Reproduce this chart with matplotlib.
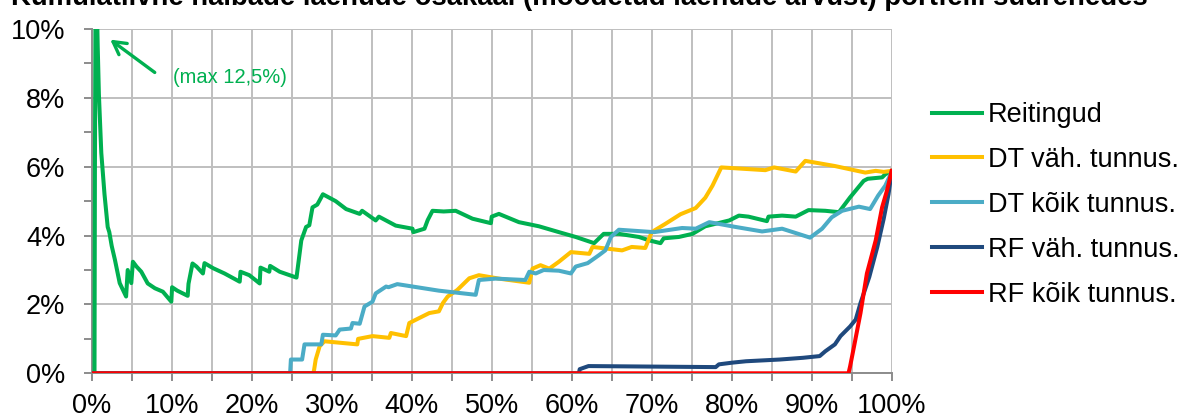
import matplotlib
matplotlib.use("Agg")
import matplotlib.pyplot as plt
from matplotlib.ticker import MultipleLocator, FuncFormatter

plt.rcParams['font.family'] = ['Liberation Sans', 'DejaVu Sans']

title = "Kumulatiivne halbade laenude osakaal (mõõdetud laenude arvust) portfelli suurenedes"
labels = ["Reitingud", "DT väh. tunnus.", "DT kõik tunnus.", "RF väh. tunnus.", "RF kõik tunnus."]
colors = ["#00b050", "#ffc000", "#4bacc6", "#1f497d", "#ff0000"]

reit_x = [0, 0.35, 0.4, 0.5, 0.75, 0.9, 1.2, 1.6, 2.0, 2.2, 2.5, 2.9, 3.5, 4.3, 4.5, 4.95, 5.15, 5.6, 6.2, 7.0,
          7.9, 8.9, 9.95, 10.05, 10.7, 12.0, 12.1, 12.6, 13.1, 13.9, 14.1, 15.2, 16.6, 18.5, 18.6, 19.7, 21.0,
          21.1, 22.2, 22.3, 23.5, 25.6, 26.0, 26.2, 26.8, 27.2, 27.6, 28.2, 28.9, 30.5, 31.8, 33.5, 33.8, 35.5,
          35.9, 38.0, 40.1, 40.2, 41.6, 42.0, 42.6, 44.0, 45.5, 47.6, 49.9, 50.0, 50.9, 53.4, 55.9, 58.4, 60.5,
          62.8, 64.0, 65.9, 68.4, 69.7, 71.1, 71.5, 73.4, 75.1, 76.7, 79.7, 80.9, 82.1, 84.4, 84.6, 86.3, 88.0,
          89.6, 91.7, 93.4, 94.8, 96.5, 97.0, 98.8, 99.2, 100]
reit_y = [0, 0, 5.8, 12.5, 9.5, 8.1, 6.4, 5.2, 4.25, 4.1, 3.7, 3.3, 2.62, 2.23, 3.0, 2.62, 3.24, 3.1, 2.95, 2.61,
          2.47, 2.37, 2.08, 2.5, 2.4, 2.25, 2.6, 3.19, 3.1, 2.9, 3.2, 3.05, 2.9, 2.66, 2.95, 2.85, 2.61,
          3.07, 2.95, 3.12, 2.95, 2.78, 3.5, 3.86, 4.25, 4.3, 4.82, 4.9, 5.2, 5.0, 4.77, 4.63, 4.72, 4.44,
          4.55, 4.29, 4.2, 4.1, 4.2, 4.45, 4.72, 4.7, 4.72, 4.49, 4.36, 4.55, 4.63, 4.39, 4.27, 4.1, 3.96,
          3.78, 4.05, 4.05, 3.96, 3.86, 3.78, 3.92, 3.96, 4.05, 4.27, 4.44, 4.58, 4.55, 4.42, 4.55, 4.58, 4.55,
          4.74, 4.72, 4.68, 5.11, 5.59, 5.65, 5.69, 5.78, 5.88]

dtv_x = [0, 27.7, 27.8, 28.0, 28.5, 29.1, 33.2, 33.3, 35.1, 37.2, 37.4, 39.3, 39.7, 40.9, 42.2, 43.4, 43.9, 44.5,
         45.7, 47.2, 48.4, 50.9, 54.7, 55.1, 56.1, 57.2, 58.4, 59.9, 62.2, 62.6, 66.3, 67.5, 69.2, 70.0, 71.7,
         73.6, 75.5, 76.7, 77.6, 78.7, 84.2, 85.3, 88.0, 89.2, 92.9, 96.7, 98.0, 99.0, 100]
dtv_y = [0, 0, 0.1, 0.4, 0.79, 0.93, 0.84, 1.0, 1.08, 1.03, 1.17, 1.08, 1.46, 1.6, 1.75, 1.8, 2.04, 2.23,
         2.42, 2.76, 2.85, 2.75, 2.63, 3.04, 3.14, 3.04, 3.24, 3.52, 3.47, 3.67, 3.57, 3.67, 3.64, 4.1, 4.34,
         4.62, 4.8, 5.1, 5.45, 5.98, 5.9, 5.98, 5.86, 6.17, 6.02, 5.83, 5.88, 5.85, 5.88]

dtk_x = [0, 24.8, 24.9, 26.3, 26.6, 28.7, 28.9, 30.5, 31.0, 32.4, 32.6, 33.5, 34.1, 35.1, 35.5, 36.8, 37.1, 38.2,
         43.4, 48.0, 48.4, 50.5, 54.2, 54.7, 55.5, 56.5, 58.4, 59.9, 60.5, 62.0, 63.4, 64.2, 64.9, 65.9, 70.3,
         73.8, 75.5, 77.2, 80.5, 83.8, 86.3, 89.8, 91.3, 92.5, 93.8, 95.9, 97.3, 98.3, 99.2, 100]
dtk_y = [0, 0, 0.4, 0.4, 0.84, 0.84, 1.12, 1.1, 1.27, 1.3, 1.46, 1.44, 1.94, 2.08, 2.32, 2.52, 2.5, 2.59,
         2.4, 2.28, 2.71, 2.75, 2.71, 2.95, 2.9, 3.0, 2.98, 2.9, 3.1, 3.2, 3.43, 3.57, 3.96, 4.17, 4.1,
         4.22, 4.2, 4.39, 4.25, 4.12, 4.2, 3.94, 4.2, 4.53, 4.72, 4.84, 4.77, 5.16, 5.45, 5.85]

rfv_x = [0, 60.9, 61.0, 62.1, 78.0, 78.4, 80.1, 81.8, 86.0, 88.9, 91.0, 91.7, 92.9, 93.6, 94.8, 95.5, 96.1, 97.2,
         98.2, 99.0, 99.6, 100]
rfv_y = [0, 0, 0.12, 0.21, 0.18, 0.26, 0.31, 0.35, 0.4, 0.45, 0.5, 0.64, 0.84, 1.08, 1.36, 1.56, 2.04, 2.8,
         3.67, 4.49, 5.2, 5.85]

rfk_x = [0, 94.6, 94.8, 95.3, 96.1, 96.9, 98.0, 98.8, 99.4, 100]
rfk_y = [0, 0, 0.2, 0.79, 1.75, 2.9, 3.86, 4.82, 5.3, 5.88]

annot_text = "(max 12,5%)"
annot_tip = (2.04, 9.74)
annot_tail = (8.16, 8.69)
annot_label = (10.2, 8.6)

W, H = 1179, 417
fig = plt.figure(figsize=(W / 100, H / 100), dpi=100)
ax = fig.add_axes([91.7 / W, 1 - 373.3 / H, 800 / W, (373.3 - 29) / H])

series = [(reit_x, reit_y), (dtv_x, dtv_y), (dtk_x, dtk_y), (rfv_x, rfv_y), (rfk_x, rfk_y)]
for (xs, ys), lab, col in zip(series, labels, colors):
    ax.plot(xs, ys, color=col, lw=2.9, label=lab, solid_joinstyle='round', zorder=3)

ax.set_xlim(0, 100)
ax.set_ylim(0, 10)
ax.xaxis.set_major_locator(MultipleLocator(10))
ax.xaxis.set_minor_locator(MultipleLocator(5))
ax.yaxis.set_major_locator(MultipleLocator(2))
ax.yaxis.set_minor_locator(MultipleLocator(1))
fmt = FuncFormatter(lambda v, p: f"{v:.0f}%")
ax.xaxis.set_major_formatter(fmt)
ax.yaxis.set_major_formatter(fmt)
ax.grid(True, which='major', axis='y', color='#bfbfbf', lw=1.4)
ax.grid(True, which='both', axis='x', color='#bfbfbf', lw=1.4)
ax.set_axisbelow(True)
for s in ['top', 'right']:
    ax.spines[s].set_visible(False)
for s in ['left', 'bottom']:
    ax.spines[s].set_color('#8c8c8c')
    ax.spines[s].set_linewidth(1.4)
ax.tick_params(which='both', direction='out', length=6, width=1.4, color='#8c8c8c', labelsize=19.5,
               labelcolor='black')
ax.tick_params(axis='y', which='both', pad=13)
ax.tick_params(axis='x', which='both', pad=8)

ax.annotate("", xy=annot_tip, xytext=annot_tail,
            arrowprops=dict(arrowstyle='->,head_length=0.9,head_width=0.5', color=colors[0], lw=2.4),
            annotation_clip=False)
ax.text(annot_label[0], annot_label[1], annot_text, color=colors[0], fontsize=14.5, va='center', ha='left')

fig.text(579 / W, 1 - 5.0 / H, title, ha='center', va='baseline', fontweight='bold', fontsize=19.8)

fig.legend(loc='upper left', bbox_to_anchor=(932 / W, 1 - 102 / H), frameon=False, fontsize=19.5,
           handlelength=1.85, handletextpad=0.2, labelspacing=0.7, borderpad=0, borderaxespad=0)

fig.savefig("out.png", dpi=100)
